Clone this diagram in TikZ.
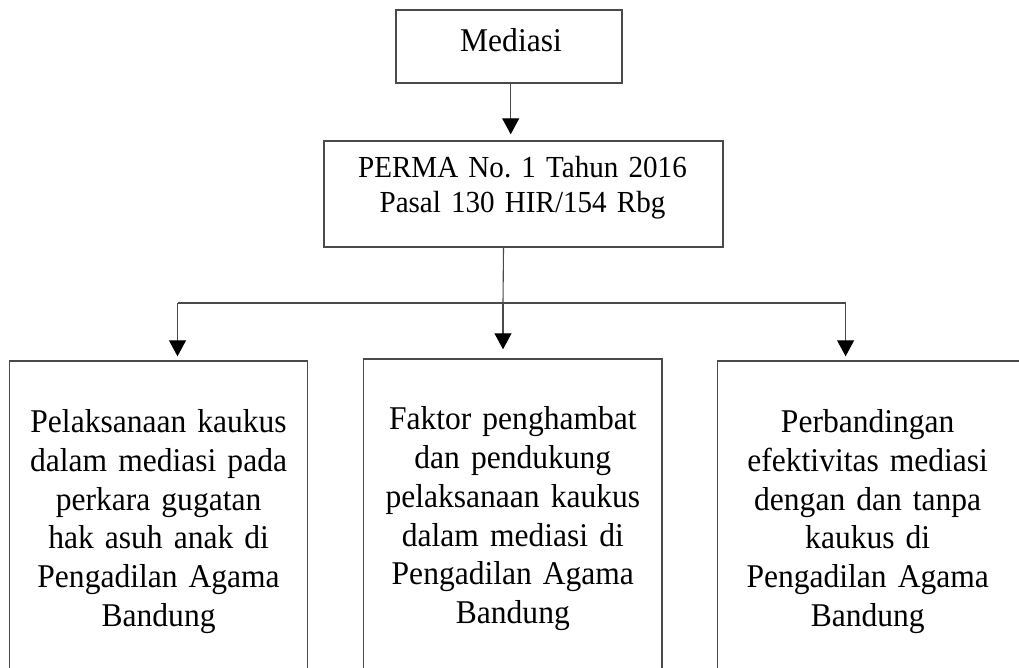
\documentclass[tikz,border=0pt]{standalone}
\usepackage{fontspec}
\setmainfont{Liberation Serif}[FakeStretch=0.95]
\usetikzlibrary{arrows.meta}
\definecolor{boxgray}{HTML}{4A4A4A}
\frenchspacing
\begin{document}
\begin{tikzpicture}[x=1pt,y=1pt,
  box/.style={draw=boxgray, line width=1.4pt, inner sep=0pt},
  lbl/.style={inner sep=0pt, align=center, text width=298pt, font=\fontsize{33.2}{38.7}\selectfont},
  conn/.style={draw=boxgray, line width=1.1pt},
  arr/.style={conn, -{Triangle[width=17pt,length=16pt,color=black,fill=black]}},
  ]
\path[use as bounding box] (0,0) rectangle (1019,667);
\clip (0,0) rectangle (1019,667);
\fill[white] (0,0) rectangle (1019,667);

% boxes
\node[box, minimum width=226pt, minimum height=73pt] (med) at (509,620.5) {};
\node[lbl, anchor=base, text width=226pt] (medt) at (511,615) {Mediasi};

\node[box, minimum width=399pt, minimum height=106pt] (perma) at (523.5,473) {};
\node[lbl, anchor=base, text width=399pt, font=\fontsize{30.6}{35}\selectfont] (permat) at (522.5,489)
  {PERMA No. 1 Tahun 2016\\Pasal 130 HIR/154 Rbg};

\node[box, minimum width=298.2pt, minimum height=326pt] (b1) at (158.6,143) {};
\node[box, minimum width=298.3pt, minimum height=328pt] (b2) at (512.85,144) {};
\node[box, minimum width=320pt, minimum height=326pt] (b3) at (877.7,143) {};

\node[lbl, anchor=base] (t1) at (158.6,234.3)
  {Pelaksanaan kaukus\\dalam mediasi pada\\perkara gugatan\\hak asuh anak di\\Pengadilan Agama\\Bandung};
\node[lbl, anchor=base] (t2) at (512.85,237)
  {Faktor penghambat\\dan pendukung\\pelaksanaan kaukus\\dalam mediasi di\\Pengadilan Agama\\Bandung};
\node[lbl, anchor=base] (t3) at (867.7,234.3)
  {Perbandingan\\efektivitas mediasi\\dengan dan tanpa\\kaukus di\\Pengadilan Agama\\Bandung};

% connectors
\coordinate (hL) at (177.5,364);
\coordinate (hM) at (503,364);
\coordinate (hR) at (845.6,364);

\draw[arr, shorten >=6pt] ([xshift=1.7pt]med.south) -- ([xshift=-12.8pt]perma.north);
\draw[conn] ([xshift=-20pt]perma.south) -- (hM);
\draw[conn] (hL) -- (hR);
\draw[arr, shorten >=4pt] (hL) -- (hL |- b1.north);
\draw[arr, shorten >=9pt] (hM) -- (hM |- b2.north);
\draw[arr, shorten >=4pt] (hR) -- (hR |- b3.north);
\end{tikzpicture}
\end{document}
